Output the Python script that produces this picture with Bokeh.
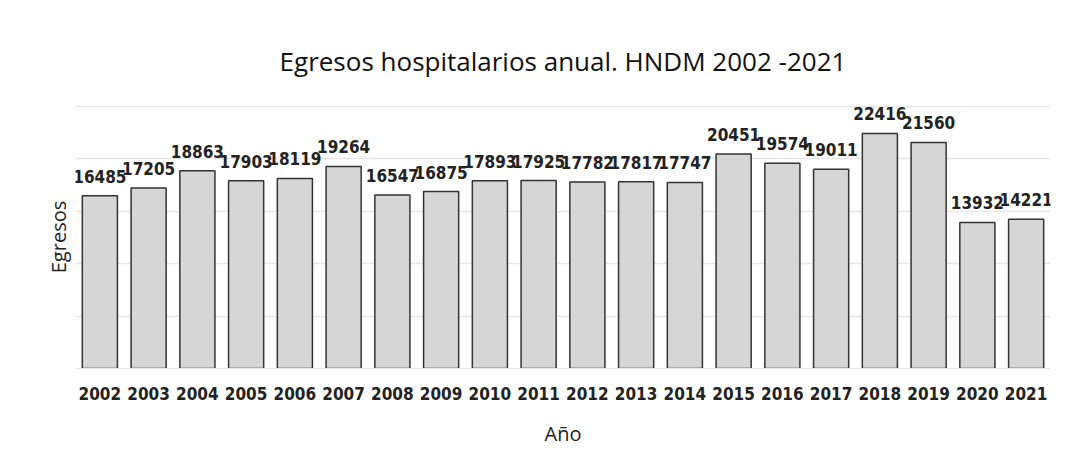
from bokeh.plotting import figure
from bokeh.models import ColumnDataSource, Range1d, FactorRange, SingleIntervalTicker, FixedTicker
from bokeh.core.properties import value
from bokeh.embed import file_html
from bokeh.resources import INLINE

years = ["2002", "2003", "2004", "2005", "2006", "2007", "2008", "2009", "2010", "2011",
         "2012", "2013", "2014", "2015", "2016", "2017", "2018", "2019", "2020", "2021"]
egresos = [16485, 17205, 18863, 17903, 18119, 19264, 16547, 16875, 17893, 17925,
           17782, 17817, 17747, 20451, 19574, 19011, 22416, 21560, 13932, 14221]
labels = [str(v) for v in egresos]

NARROW = "DejaVu Sans Condensed"

src = ColumnDataSource(dict(x=years, y=egresos, lab=labels))

p = figure(width=1064, height=452, x_range=FactorRange(*years), y_range=Range1d(0, 25080),
           output_backend="svg", toolbar_location=None,
           title="Egresos hospitalarios anual. HNDM 2002 -2021",
           min_border_left=75, min_border_right=14, min_border_top=105, min_border_bottom=84)
p.x_range.range_padding = 0
p.x_range.factor_padding = 0

p.vbar(x="x", top="y", width=0.72, source=src, fill_color="#d6d6d6",
       line_color="#333333", line_width=1.5)
p.text(x="x", y="y", text="lab", source=src, text_align="center", text_baseline="bottom",
       y_offset=-13, text_font=value(NARROW), text_font_style="bold",
       text_font_size="17px", text_color="#222222")

p.title.align = "center"
p.title.text_font = "Open Sans"
p.title.text_font_style = "normal"
p.title.text_font_size = "26px"
p.title.text_color = "#111111"
p.title.standoff = 54

p.outline_line_color = None
p.background_fill_color = "white"
p.border_fill_color = "white"

p.yaxis.ticker = FixedTicker(ticks=[])
p.ygrid.ticker = SingleIntervalTicker(interval=5000)
p.ygrid.grid_line_color = "#e6e6e6"
p.ygrid.grid_line_width = 1.5
p.xgrid.grid_line_color = None

p.yaxis.axis_label = "Egresos"
p.yaxis.axis_label_text_font = "Open Sans"
p.yaxis.axis_label_text_font_style = "normal"
p.yaxis.axis_label_text_font_size = "20px"
p.yaxis.axis_label_text_color = "#222222"
p.yaxis.major_tick_line_color = None
p.yaxis.minor_tick_line_color = None
p.yaxis.axis_line_color = None
p.yaxis.axis_label_standoff = 4

p.xaxis.axis_label = "Año"
p.xaxis.axis_label_text_font = "Open Sans"
p.xaxis.axis_label_text_font_style = "normal"
p.xaxis.axis_label_text_font_size = "20px"
p.xaxis.axis_label_text_color = "#222222"
p.xaxis.axis_label_standoff = 17
p.xaxis.major_label_text_font = NARROW
p.xaxis.major_label_text_font_style = "bold"
p.xaxis.major_label_text_font_size = "17px"
p.xaxis.major_label_text_color = "#222222"
p.xaxis.major_label_standoff = 12
p.xaxis.major_tick_line_color = None
p.xaxis.axis_line_color = "#e6e6e6"

open("out.html", "w").write(file_html(p, INLINE))
